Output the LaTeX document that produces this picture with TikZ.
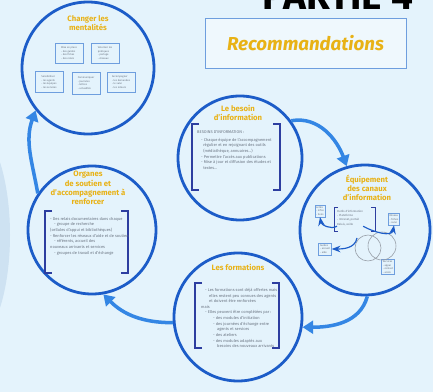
\documentclass[tikz,border=0pt]{standalone}
\usepackage{fontspec}
\setmainfont{Fira Sans}
\usetikzlibrary{arrows.meta}
\definecolor{fond}{RGB}{228,243,252}
\definecolor{bande}{RGB}{206,226,242}
\definecolor{anneau}{RGB}{28,92,200}
\definecolor{fleche}{RGB}{52,134,228}
\definecolor{ocre}{RGB}{232,178,22}
\definecolor{gris}{RGB}{105,115,128}
\definecolor{cadre}{RGB}{110,158,222}
\definecolor{crochet}{RGB}{45,62,160}
\begin{document}
\begin{tikzpicture}[x=0.3mm, y=-0.3mm]
	\tikzstyle{ring}=[circle,draw=anneau,line width=2.4pt,inner sep=0pt]
	\tikzstyle{flow}=[->,>={Triangle[length=9pt,width=11pt]},draw=fleche,line width=3pt]
	\tikzstyle{titre}=[text=ocre,font=\fontsize{6.6}{7.8}\selectfont\bfseries,align=center,inner sep=0pt]
	\tikzstyle{corps}=[text=gris,font=\fontsize{3.4}{4.8}\selectfont,align=left,anchor=north west,inner sep=0pt]
	\tikzstyle{mini}=[text=gris,font=\fontsize{2.2}{3}\selectfont,align=left,draw=cadre,line width=0.5pt,inner sep=1.2pt]
	\tikzstyle{crochets}=[draw=crochet,line width=1.3pt]
	\useasboundingbox[fill=fond] (0,0) rectangle (433,392);
	\fill[bande] (-30,235) ellipse [x radius=40, y radius=110];
	\draw 
	node[ring,minimum size=39.6mm](A)at(88,68){}
	node[ring,minimum size=37.2mm](B)at(240,158){}
	node[ring,minimum size=39mm](C)at(365,230){}
	node[ring,minimum size=38.4mm](D)at(238,317){}
	node[ring,minimum size=38.4mm](E)at(92,230){};
	
	\node[anchor=base,font=\fontsize{33}{33}\selectfont\bfseries](P)at(338,10){PARTIE 4};
	\node[draw=cadre,fill=fond!60!white,line width=0.8pt,minimum width=60.3mm,minimum height=15mm,text=ocre,font=\fontsize{16}{16}\selectfont\bfseries\itshape](R)at(305.5,43){Recommandations};
	
	% changer les mentalites
	\node[titre](A1)at(88,23){Changer les\\mentalités};
	\node[mini,minimum width=8.4mm,minimum height=6mm](A2)at(69,53){Mise en place\\ - des guides\\ - des fiches\\ - des relais};
	\node[mini,minimum width=8.4mm,minimum height=6mm](A3)at(105,53){Valoriser les\\ pratiques\\ - partage\\ - réseaux};
	\node[mini,minimum width=8.4mm,minimum height=6.4mm](A4)at(49,82){Sensibiliser\\ - les agents\\ - les équipes\\ - les services};
	\node[mini,minimum width=8.4mm,minimum height=6.6mm](A5)at(86,83){Communiquer\\ - journées\\ - lettres\\ - actualités};
	\node[mini,minimum width=8.4mm,minimum height=6mm](A6)at(121,82){Accompagner\\ - les demandes\\ - le suivi\\ - les retours};
	
	% le besoin d'information
	\node[titre](B1)at(238,113){Le besoin\\d'information};
	\draw[crochets] (199,124)--(192,124)--(192,190)--(199,190);
	\draw[crochets] (273,124)--(280,124)--(280,190)--(273,190);
	\node[corps](B2)at(197,130){BESOINS D'INFORMATION :\\[2pt]
		\quad - Chaque équipe de l'accompagnement\\
		\quad\ \ régulier et en rejoignant des outils\\
		\quad\ \ (médiathèque, annuaires...)\\
		\quad - Permettre l'accès aux publications\\
		\quad - Mise à jour et diffusion des études et\\
		\quad\ \ textes...};
	
	% equipement des canaux
	\node[titre](C1)at(367,188){Équipement\\des canaux\\d'information};
	\draw[crochets,line width=0.8pt] (338,207)--(334,207)--(334,231)--(338,231);
	\draw[crochets,line width=0.8pt] (371,207)--(375,207)--(375,231)--(371,231);
	\node[corps,font=\fontsize{2.4}{3.4}\selectfont](C2)at(337,210){Outils d'information\\ - Plateforme\\ - Intranet, portail\\[1pt] Relais, veille};
	\node[mini](C3)at(320,211){Lettre\\ - infos\\ - liens};
	\node[mini](C4)at(394,219){Réseau\\ - fiches\\ - suivi};
	\node[mini](C5)at(325,249){Guides\\ - accueil\\ - aide};
	\node[mini](C6)at(388,267){Services\\ - appui\\ - contact\\ - accès};
	\draw[draw=gris!70,line width=0.5pt] (368,248) circle (13) (382,246) circle (14);
	\draw[->,>=Stealth,draw=anneau,line width=1pt](C2.south west) to[out=210,in=-80] (C3.south);
	\draw[->,>=Stealth,draw=anneau,line width=1pt](C2.south east) to[out=-30,in=-100] (C4.south);
	\draw[->,>=Stealth,draw=anneau,line width=1pt](357,238) to[out=-100,in=0] (C5.east);
	
	% les formations
	\node[titre](D1)at(238,267){Les formations};
	\draw[crochets] (202,283)--(195,283)--(195,348)--(202,348);
	\draw[crochets] (272,283)--(279,283)--(279,348)--(272,348);
	\node[corps](D2)at(201,288){\quad - Les formations sont déjà offertes mais\\
		\qquad elles restent peu connues des agents\\
		\qquad et doivent être renforcées\\
		mais\\
		\quad - Elles peuvent être complétées par :\\
		\qquad\quad - des modules d'initiation\\
		\qquad\quad - des journées d'échange entre\\
		\qquad\qquad agents et services\\
		\qquad\quad - des ateliers\\
		\qquad\quad - des modules adaptés aux\\
		\qquad\qquad besoins des nouveaux arrivants};
	
	% organes de soutien
	\node[titre](E1)at(88,188){Organes\\de soutien et\\d'accompagnement à\\renforcer};
	\draw[crochets] (52,211)--(45,211)--(45,273)--(52,273);
	\draw[crochets] (121,211)--(128,211)--(128,273)--(121,273);
	\node[corps](E2)at(50,217){- Des relais documentaires dans chaque\\
		\quad - groupe de recherche\\
		(cellules d'appui et bibliothèques)\\
		- Renforcer les réseaux d'aide et de soutien\\
		\quad - référents, accueil des\\
		nouveaux arrivants et services\\
		\quad - groupes de travail et d'échange};
	
	\draw[flow](E.146) to[out=100,in=250] (A.219);
	\draw[flow](B.36) to[out=10,in=110] (C.106);
	\draw[flow](C.-88) to[out=-105,in=0] (D.-9);
	\draw[flow](D.185) to[out=180,in=-45] (E.-80);
\end{tikzpicture}
\end{document}
